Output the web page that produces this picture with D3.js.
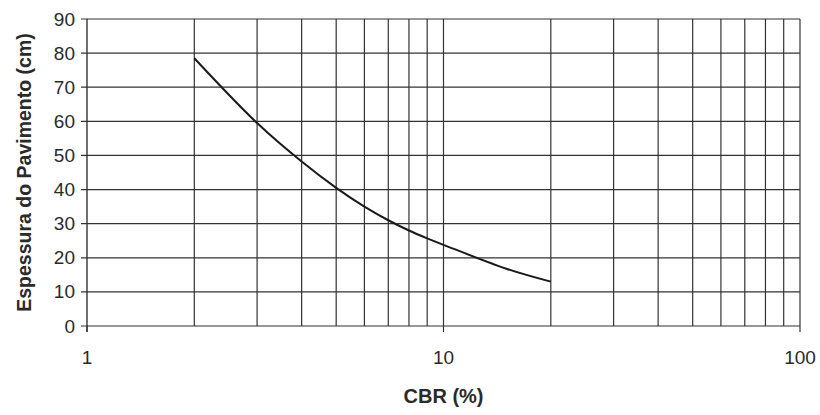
<!DOCTYPE html>
<html>
<head>
<meta charset="utf-8">
<script src="https://cdn.jsdelivr.net/npm/d3@7"></script>
<style>
  body { margin: 0; background: #fff; }
  text { font-family: "Liberation Sans", Arial, sans-serif; fill: #2a2a2a; }
</style>
</head>
<body>
<svg id="chart"></svg>
<script>
// curve: CBR (%) vs pavement thickness (cm)
const cbr = [2, 3, 4, 5, 6, 7, 8, 9, 10, 15, 20];
const thickness = [78.5, 59.5, 48.2, 40.5, 35, 31, 28, 25.7, 23.8, 16.8, 13];
const yTicks = [0, 10, 20, 30, 40, 50, 60, 70, 80, 90];
const xTickLabels = [1, 10, 100];
const xGrid = [2, 3, 4, 5, 6, 7, 8, 9, 10, 20, 30, 40, 50, 60, 70, 80, 90, 100];

const width = 820, height = 415;
const margin = {top: 19, right: 20, bottom: 89, left: 87};

const svg = d3.select("#chart")
    .attr("width", width)
    .attr("height", height);

const x = d3.scaleLog()
    .domain([1, 100])
    .range([margin.left, width - margin.right]);

const y = d3.scaleLinear()
    .domain([0, 90])
    .range([height - margin.bottom, margin.top]);

const gridColor = "#333";

// horizontal grid
svg.append("g")
    .selectAll("line")
    .data(yTicks)
    .join("line")
    .attr("x1", x(1) - 6)
    .attr("x2", x(100))
    .attr("y1", d => y(d))
    .attr("y2", d => y(d))
    .attr("stroke", gridColor)
    .attr("stroke-width", 1.2);

// vertical grid
svg.append("g")
    .selectAll("line")
    .data(xGrid)
    .join("line")
    .attr("x1", d => x(d))
    .attr("x2", d => x(d))
    .attr("y1", y(90))
    .attr("y2", y(0))
    .attr("stroke", gridColor)
    .attr("stroke-width", 1.2);

// left axis line and bottom tick marks
svg.append("line")
    .attr("x1", x(1)).attr("x2", x(1))
    .attr("y1", y(90)).attr("y2", y(0) + 6)
    .attr("stroke", gridColor).attr("stroke-width", 1.4);

svg.append("g")
    .selectAll("line")
    .data(xTickLabels)
    .join("line")
    .attr("x1", d => x(d))
    .attr("x2", d => x(d))
    .attr("y1", y(0))
    .attr("y2", y(0) + 6)
    .attr("stroke", gridColor)
    .attr("stroke-width", 1.2);

// tick labels
svg.append("g")
    .selectAll("text")
    .data(yTicks)
    .join("text")
    .attr("x", x(1) - 12)
    .attr("y", d => y(d))
    .attr("text-anchor", "end")
    .attr("dominant-baseline", "central")
    .style("font-size", "19px")
    .text(d => d);

svg.append("g")
    .selectAll("text")
    .data(xTickLabels)
    .join("text")
    .attr("x", d => x(d))
    .attr("y", y(0) + 31)
    .attr("text-anchor", "middle")
    .attr("dominant-baseline", "central")
    .style("font-size", "19px")
    .text(d => d);

// axis titles
svg.append("text")
    .attr("x", x(10))
    .attr("y", 396)
    .attr("text-anchor", "middle")
    .attr("dominant-baseline", "central")
    .style("font-size", "20px")
    .style("font-weight", "bold")
    .text("CBR (%)");

svg.append("text")
    .attr("transform", `translate(24, ${(y(0) + y(90)) / 2}) rotate(-90)`)
    .attr("text-anchor", "middle")
    .attr("dominant-baseline", "central")
    .style("font-size", "19.5px")
    .style("font-weight", "bold")
    .text("Espessura do Pavimento (cm)");

// the curve
const line = d3.line()
    .x(d => x(d[0]))
    .y(d => y(d[1]))
    .curve(d3.curveCatmullRom.alpha(0.5));

svg.append("path")
    .datum(cbr.map((c, i) => [c, thickness[i]]))
    .attr("d", line)
    .attr("fill", "none")
    .attr("stroke", "#1a1a1a")
    .attr("stroke-width", 2);
</script>
</body>
</html>
